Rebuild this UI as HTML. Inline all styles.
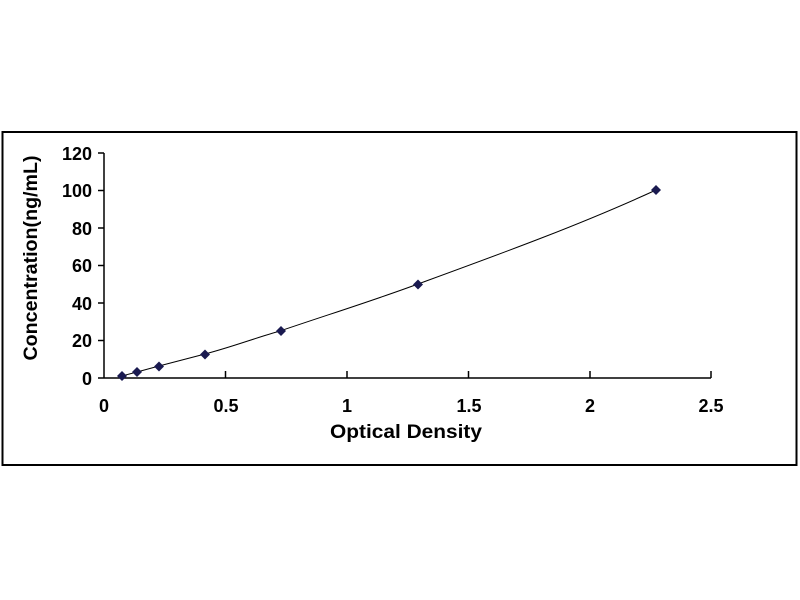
<!DOCTYPE html>
<html><head><style>body{margin:0;background:#fff}svg{display:block}</style></head><body>
<svg width="800" height="600" xmlns="http://www.w3.org/2000/svg" font-family="Liberation Sans, Arial, sans-serif" font-weight="bold">
<rect x="2.5" y="132" width="794" height="333" fill="#fff" stroke="#000" stroke-width="2"/>
<g stroke="#000" stroke-width="1.5">
<line x1="104" y1="153" x2="104" y2="378"/>
<line x1="104" y1="378" x2="711" y2="378"/>
<line x1="98" y1="153" x2="104" y2="153"/><line x1="98" y1="190.5" x2="104" y2="190.5"/>
<line x1="98" y1="228" x2="104" y2="228"/><line x1="98" y1="265.5" x2="104" y2="265.5"/>
<line x1="98" y1="303" x2="104" y2="303"/><line x1="98" y1="340.5" x2="104" y2="340.5"/>
<line x1="98" y1="378" x2="104" y2="378"/>
<line x1="225.5" y1="371" x2="225.5" y2="378"/><line x1="347" y1="371" x2="347" y2="378"/>
<line x1="468.5" y1="371" x2="468.5" y2="378"/><line x1="590" y1="371" x2="590" y2="378"/>
<line x1="711" y1="371" x2="711" y2="378"/>
</g>
<g font-size="18" text-anchor="end" fill="#000">
<text x="92" y="160">120</text><text x="92" y="197">100</text><text x="92" y="235">80</text>
<text x="92" y="272">60</text><text x="92" y="310">40</text><text x="92" y="347">20</text><text x="92" y="385">0</text>
</g>
<g font-size="18" text-anchor="middle" fill="#000">
<text x="104" y="412">0</text><text x="226" y="412">0.5</text><text x="347" y="412">1</text>
<text x="469" y="412">1.5</text><text x="590" y="412">2</text><text x="711" y="412">2.5</text>
</g>
<g font-size="19" text-anchor="middle" fill="#000">
<text x="406" y="438" textLength="152" lengthAdjust="spacingAndGlyphs">Optical Density</text>
<text transform="translate(37,258) rotate(-90)" textLength="205" lengthAdjust="spacingAndGlyphs">Concentration(ng/mL)</text>
</g>
<path d="M122,376 L137,372 L159,366 L205,354 C235,346 255,338 280,331 C330,314 375,300 418,284 C500,254 580,225 656,190" fill="none" stroke="#000" stroke-width="1"/>
<g fill="#1a1a50">
<path d="M122,371 l5,5 -5,5 -5,-5z"/><path d="M137,367 l5,5 -5,5 -5,-5z"/>
<path d="M159,361.5 l5,5 -5,5 -5,-5z"/><path d="M205,349.5 l5,5 -5,5 -5,-5z"/>
<path d="M281,326 l5,5 -5,5 -5,-5z"/><path d="M418,279.5 l5,5 -5,5 -5,-5z"/>
<path d="M656,185 l5,5 -5,5 -5,-5z"/>
</g>
</svg>
</body></html>
